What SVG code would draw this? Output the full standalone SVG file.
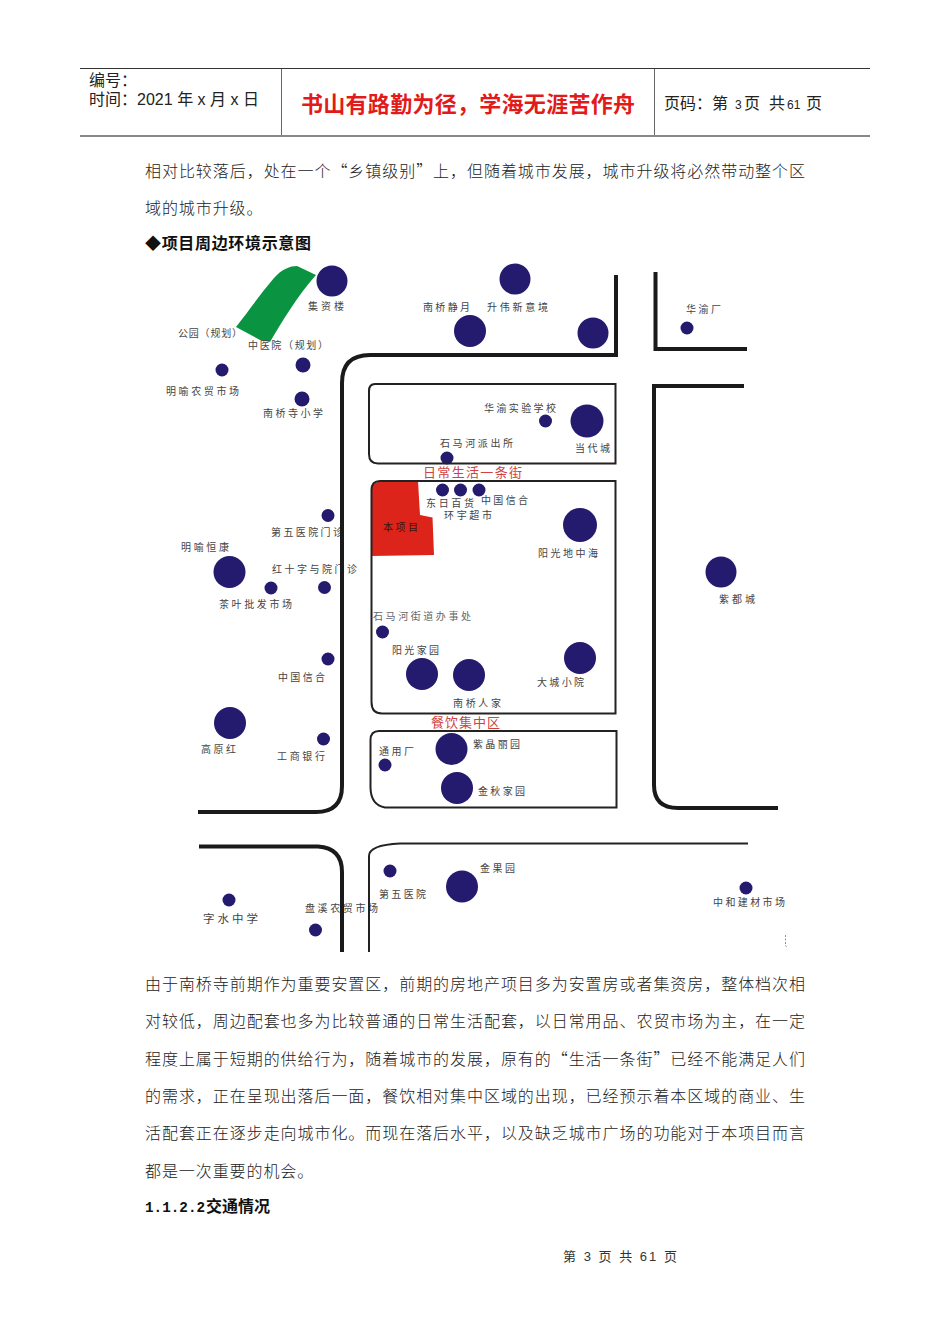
<svg xmlns="http://www.w3.org/2000/svg" width="950" height="1344" viewBox="0 0 950 1344">
<style>
text{font-family:"Liberation Sans","Noto Sans CJK SC",sans-serif;fill:#1c1c1c}
.b{font-size:16px;font-family:"Noto Sans CJK SC",sans-serif;fill:#222;font-weight:300}
.bs{letter-spacing:.92px}
.h{font-size:16px;font-weight:700;fill:#111}
.hd{font-size:16px;fill:#222}
.sm{font-size:12px}
.m{font-size:10px;fill:#444}
.r{font-size:13px;fill:#cf4242}
.s{fill:#241a6e}
.road{fill:none;stroke:#1a1a1a;stroke-width:4}
.thin{fill:none;stroke:#222;stroke-width:2}
</style>
<rect width="950" height="1344" fill="#fff"/>
<g id="header">
<path d="M80 68.5H870" stroke="#333" stroke-width="1"/>
<path d="M80 136H870" stroke="#888" stroke-width="2"/>
<path d="M281.500 69V135M654.500 69V135" stroke="#666" stroke-width="1"/>
<text class="hd" x="89" y="86">编号：</text>
<text class="hd" x="89" y="105" textLength="170">时间：2021 年 x 月 x 日</text>
<text x="301" y="112" font-size="22" font-weight="700" style="fill:#e21a1a" textLength="334">书山有路勤为径，学海无涯苦作舟</text>
<text class="hd" y="109"><tspan x="664">页码：第</tspan><tspan class="sm" x="735">3</tspan><tspan x="744">页</tspan><tspan x="769">共</tspan><tspan class="sm" x="787">61</tspan><tspan x="806">页</tspan></text>
</g>
<g id="text-top">
<text class="b" x="145" y="177" textLength="660">相对比较落后，处在一个“乡镇级别”上，但随着城市发展，城市升级将必然带动整个区</text>
<text class="b bs" x="145" y="214">域的城市升级。</text>
<text class="h" x="145" y="249" textLength="166">◆项目周边环境示意图</text>
</g>
<g id="park"><path d="M236 327C250 309 262 292 274 278C282 269 290 266 297 266L316 275C296 298 283 320 270 342L260 340Z" fill="#0a9441"/></g>
<g id="project"><path d="M371 556V490Q372 482 382 481H418L420 515L432.500 517.500L434 555Z" fill="#dc241b"/><text class="m" x="383" y="531" textLength="35" style="fill:#3a1512">本项目</text></g>
<g id="n1"><circle class="s" cx="332" cy="281" r="15.500"/><text class="m" x="308" y="310" textLength="36">集资楼</text></g>
<g id="n2"><circle class="s" cx="470" cy="331" r="16"/><text class="m" x="423" y="311" textLength="47">南桥静月</text></g>
<g id="n3"><circle class="s" cx="515" cy="279" r="15.500"/><text class="m" x="487" y="311" textLength="61">升伟新意境</text></g>
<g id="n4"><circle class="s" cx="593" cy="333" r="15.500"/></g>
<g id="n5"><circle class="s" cx="687" cy="328" r="6.500"/><text class="m" x="686" y="313" textLength="35">华渝厂</text></g>
<g id="n6"><text class="m" x="178" y="337" textLength="64">公园（规划）</text></g>
<g id="n7"><circle class="s" cx="303" cy="365" r="7.500"/><text class="m" x="248" y="349" textLength="80">中医院（规划）</text></g>
<g id="n8"><circle class="s" cx="222" cy="370" r="6.500"/><text class="m" x="166" y="395" textLength="73">明喻农贸市场</text></g>
<g id="n9"><circle class="s" cx="302" cy="399" r="7.500"/><text class="m" x="263" y="417" textLength="60">南桥寺小学</text></g>
<g id="n10"><circle class="s" cx="545.500" cy="421" r="6.500"/><text class="m" x="484" y="412" textLength="72">华渝实验学校</text></g>
<g id="n11"><circle class="s" cx="587" cy="421" r="16.500"/><text class="m" x="575" y="451.500" textLength="35">当代城</text></g>
<g id="n12"><circle class="s" cx="447" cy="458" r="6.500"/><text class="m" x="440" y="447" textLength="73">石马河派出所</text></g>
<g id="street1"><text class="r" x="423" y="477" textLength="99">日常生活一条街</text></g>
<g id="n13"><circle class="s" cx="442.500" cy="490" r="6.500"/><text class="m" x="426" y="507" textLength="48">东日百货</text></g>
<g id="n14"><circle class="s" cx="460.500" cy="490" r="6.500"/><text class="m" x="444" y="518.500" textLength="48">环宇超市</text></g>
<g id="n15"><circle class="s" cx="479" cy="490" r="6.500"/><text class="m" x="481" y="504" textLength="47">中国信合</text></g>
<g id="n16"><circle class="s" cx="580" cy="525" r="17"/><text class="m" x="538" y="556.500" textLength="60">阳光地中海</text></g>
<g id="n17"><circle class="s" cx="721" cy="572" r="15.500"/><text class="m" x="719" y="602.500" textLength="36">紫都城</text></g>
<g id="n18"><circle class="s" cx="328" cy="515.500" r="6.500"/><text class="m" x="271" y="535.500" textLength="72">第五医院门诊</text></g>
<g id="n19"><circle class="s" cx="229.500" cy="572" r="16"/><text class="m" x="181" y="551" textLength="48">明喻恒康</text></g>
<g id="n20"><circle class="s" cx="271" cy="588" r="6.500"/><text class="m" x="219" y="608" textLength="73">茶叶批发市场</text></g>
<g id="n21"><circle class="s" cx="324.500" cy="587.500" r="6.500"/><text class="m" x="272" y="573" textLength="85">红十字与院门诊</text></g>
<g id="n22"><circle class="s" cx="382.500" cy="632" r="6.500"/><text class="m" x="373" y="620" textLength="98" style="fill:#666">石马河街道办事处</text></g>
<g id="n23"><circle class="s" cx="422" cy="674" r="16"/><text class="m" x="392" y="654" textLength="47">阳光家园</text></g>
<g id="n24"><circle class="s" cx="469" cy="675" r="16"/><text class="m" x="453" y="706.500" textLength="48">南桥人家</text></g>
<g id="n25"><circle class="s" cx="580" cy="658" r="16"/><text class="m" x="537" y="685.500" textLength="47">大城小院</text></g>
<g id="n26"><circle class="s" cx="328" cy="659" r="6.500"/><text class="m" x="278" y="681" textLength="47">中国信合</text></g>
<g id="street2"><text class="r" x="431" y="727" textLength="69">餐饮集中区</text></g>
<g id="n27"><circle class="s" cx="230" cy="723" r="16"/><text class="m" x="201" y="753" textLength="35">高原红</text></g>
<g id="n28"><circle class="s" cx="323.500" cy="739" r="6.500"/><text class="m" x="277" y="760" textLength="48">工商银行</text></g>
<g id="n29"><circle class="s" cx="385" cy="765" r="6.500"/><text class="m" x="379" y="755" textLength="35">通用厂</text></g>
<g id="n30"><circle class="s" cx="451.500" cy="749" r="16"/><text class="m" x="473" y="748" textLength="47">紫晶丽园</text></g>
<g id="n31"><circle class="s" cx="457" cy="788" r="16"/><text class="m" x="478" y="795" textLength="47">金秋家园</text></g>
<g id="n32"><circle class="s" cx="390" cy="871" r="6.500"/><text class="m" x="379" y="898" textLength="47">第五医院</text></g>
<g id="n33"><circle class="s" cx="462" cy="886.500" r="16"/><text class="m" x="480" y="872" textLength="35">金果园</text></g>
<g id="n34"><circle class="s" cx="229" cy="900" r="6.500"/><text class="m" x="203" y="922.500" style="font-size:11.500px" textLength="55">字水中学</text></g>
<g id="n35"><circle class="s" cx="315.500" cy="930" r="6.500"/><text class="m" x="305" y="912" textLength="73">盘溪农贸市场</text></g>
<g id="n36"><circle class="s" cx="746" cy="888" r="6.500"/><text class="m" x="713" y="905.500" textLength="72">中和建材市场</text></g>
<g id="connectors">
<path class="road" d="M198 812H316Q342 812 342 786V383Q342 355 370 355H616V275"/>
<path class="road" d="M199 846.500H318Q342 848 342 872V952"/>
<path class="road" d="M655.500 272V349H747"/>
<path class="road" d="M744 386H654V785Q654 808 678 808H778"/>
<path class="thin" d="M375 384H615.500V463.500H378Q369 463.500 369 454V391Q369 384 375 384Z"/>
<path class="thin" d="M380 481H615.500V713.500H382Q371.500 713.500 371.500 702V490Q371.500 481 380 481Z"/>
<path class="thin" d="M379 731H616.500V807.500H385Q371 805 370.500 788V740Q370.500 731 379 731Z"/>
<path class="thin" d="M748 843.500H400Q369 845 369 856V952"/>
<path d="M785.500 935V946L787 947" fill="none" stroke="#777" stroke-width=".8" stroke-dasharray="2 1.500"/>
</g>
<g id="text-bottom">
<text class="b" x="145" y="990" textLength="660">由于南桥寺前期作为重要安置区，前期的房地产项目多为安置房或者集资房，整体档次相</text>
<text class="b" x="145" y="1027" textLength="660">对较低，周边配套也多为比较普通的日常生活配套，以日常用品、农贸市场为主，在一定</text>
<text class="b" x="145" y="1065" textLength="660">程度上属于短期的供给行为，随着城市的发展，原有的“生活一条街”已经不能满足人们</text>
<text class="b" x="145" y="1102" textLength="660">的需求，正在呈现出落后一面，餐饮相对集中区域的出现，已经预示着本区域的商业、生</text>
<text class="b" x="145" y="1139" textLength="660">活配套正在逐步走向城市化。而现在落后水平，以及缺乏城市广场的功能对于本项目而言</text>
<text class="b bs" x="145" y="1177">都是一次重要的机会。</text>
<text class="h" x="145" y="1212"><tspan style="font-family:'Liberation Mono',monospace;font-size:14.300px">1.1.2.2</tspan><tspan x="206">交通情况</tspan></text>
<text x="563" y="1261" font-size="13" textLength="114" style="fill:#333">第 3 页 共 61 页</text>
</g>
</svg>
